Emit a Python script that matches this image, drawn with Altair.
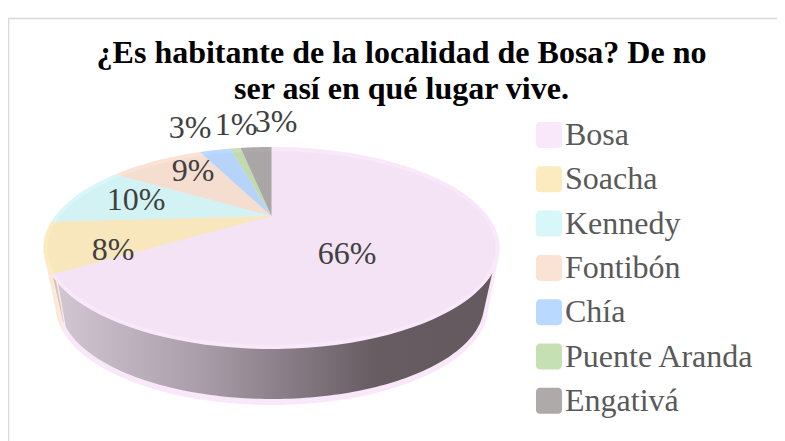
import numpy as np
import altair as alt

categories = ["Bosa", "Soacha", "Kennedy", "Fontibón", "Chía", "Puente Aranda", "Engativá"]
percent = [66, 8, 10, 9, 3, 1, 3]
colors = ["#f9e8f9", "#fdebc0", "#d7f7f9", "#fae2d5", "#bad9fe", "#c5e0b3", "#aeaaaa"]
title_lines = ["¿Es habitante de la localidad de Bosa? De no", "ser así en qué lugar vive."]
label_x = [347, 113, 136, 193, 190, 236, 276]
label_y = [254, 250, 200, 171, 128, 125, 122]

FONT = "Liberation Serif"
CX, CY, RX, RY, K = 271.5, 248.0, 228.0, 101.0, 0.72


def view_angle(theta):
    """Share of the circle (radians) to parameter on the tilted ellipse."""
    return 2 * np.arctan2(K * np.sin(theta / 2), np.cos(theta / 2))


def arc(t, cx=CX, cy=CY, rx=RX, ry=RY):
    return np.column_stack([cx + rx * np.sin(t), cy - ry * np.cos(t)])


def feature(points, name=""):
    ring = [[float(a), float(b)] for a, b in points]
    ring.append(ring[0])
    return {"type": "Feature", "properties": {"name": name},
            "geometry": {"type": "Polygon", "coordinates": [ring]}}


def hull(points):
    pts = sorted(map(tuple, points))
    def half(seq):
        out = []
        for p in seq:
            while len(out) > 1 and ((out[-1][0] - out[-2][0]) * (p[1] - out[-2][1])
                                    - (out[-1][1] - out[-2][1]) * (p[0] - out[-2][0])) <= 0:
                out.pop()
            out.append(p)
        return out[:-1]
    return half(pts) + half(pts[::-1])


edges = np.cumsum([0] + percent) / 100 * 2 * np.pi
apex = (CX, CY - RY * np.cos(view_angle(np.array(np.pi / 2))))

slices = []
for name, a, b in zip(categories, edges[:-1], edges[1:]):
    t = view_angle(np.linspace(a, b, 90))
    slices.append(feature([apex] + list(map(tuple, arc(t))), name))

ts = np.linspace(0, 2 * np.pi, 240)
BASE_OUT = dict(cx=272, cy=307, rx=216, ry=98)
BASE_IN = dict(cx=272, cy=305, rx=212, ry=94)

silhouette = feature(hull(np.vstack([arc(ts), arc(ts, **BASE_OUT)])))

side_t = np.radians(np.linspace(255.5, 270, 20))
base_t = np.radians(np.linspace(270, 256, 20))
soacha_side = feature(np.vstack([arc(side_t), arc(base_t, **BASE_OUT)]))

wall_top = arc(np.radians(np.linspace(104.5, 249.5, 120)), ry=100)
wall_bot = arc(np.radians(np.linspace(256.5, 95, 120)), **BASE_IN)
wall = feature(np.vstack([wall_top, wall_bot]))

left_top, left_bot = wall_top[-1], wall_bot[0]
soacha_edge = feature([left_top + [-5, -6], left_top + [-2, -3], left_bot + [-2, -4], left_bot + [-3, -6]])

face_inset = feature(arc(ts, rx=RX - 4, ry=RY - 4))

frame = feature([(8.5, 18.5), (900, 18.5), (900, 900), (8.5, 900)])

wall_fill = alt.Gradient(
    gradient="linear", x1=0, x2=1, y1=0, y2=0,
    stops=[alt.GradientStop(color="#d2c6d2", offset=0),
           alt.GradientStop(color="#a99da9", offset=0.33),
           alt.GradientStop(color="#8d828b", offset=0.5),
           alt.GradientStop(color="#675c62", offset=0.73),
           alt.GradientStop(color="#64595f", offset=1)])

W, H = 769, 433
proj = dict(type="identity", scale=1, translate=[-8, -8])


def shape(features, **mark):
    return alt.Chart(alt.Data(values=features)).mark_geoshape(**mark).project(**proj)


frame_layer = shape([frame], fill=None, filled=False, stroke="#d9d9d9", strokeWidth=1.5)
frame_bg = shape([silhouette], fill="#f9e8f9", stroke=None)
side = shape([soacha_side], fill="#fdebc0", stroke=None)
edge_layer = shape([soacha_edge], fill="#d8c99a", stroke=None)
wall_layer = shape([wall], fill=wall_fill, stroke=None)

top = shape(slices, stroke=None).encode(
    color=alt.Color(
        "properties.name:N",
        scale=alt.Scale(domain=categories, range=colors),
        sort=categories,
        legend=alt.Legend(
            title=None, orient="none", legendX=525, legendY=111,
            symbolType="M-1,-0.7A0.3,0.3,0,0,1,-0.7,-1L0.7,-1A0.3,0.3,0,0,1,1,-0.7L1,0.7A0.3,0.3,0,0,1,0.7,1L-0.7,1A0.3,0.3,0,0,1,-1,0.7Z",
            symbolSize=676, symbolStrokeWidth=0, symbolOpacity=1,
            labelFont=FONT, labelFontSize=32, labelColor="#595959",
            labelOffset=0, rowPadding=12.3, labelLimit=300,
        ),
    )
)
inset = shape([face_inset], fill="#000000", fillOpacity=0.018, stroke=None)

labels = alt.Chart(alt.Data(values=[
    {"lon": x, "lat": y, "txt": f"{p}%"} for x, y, p in zip(label_x, label_y, percent)
])).mark_text(font=FONT, fontSize=32, color="#404040").encode(
    longitude="lon:Q", latitude="lat:Q", text="txt:N"
).project(**proj)

chart = alt.layer(frame_layer, frame_bg, side, edge_layer, wall_layer, top, inset, labels).properties(
    width=W, height=H,
    padding=0,
    autosize=alt.AutoSizeParams(type="none"),
    title=alt.TitleParams(
        text=title_lines, font=FONT, fontSize=32, fontWeight="bold", color="#000000",
        lineHeight=36, anchor="middle", baseline="top", dx=9, dy=98, offset=0,
    ),
).configure_view(stroke=None)

chart.save("out.html", embed_options={"renderer": "svg", "actions": False})
